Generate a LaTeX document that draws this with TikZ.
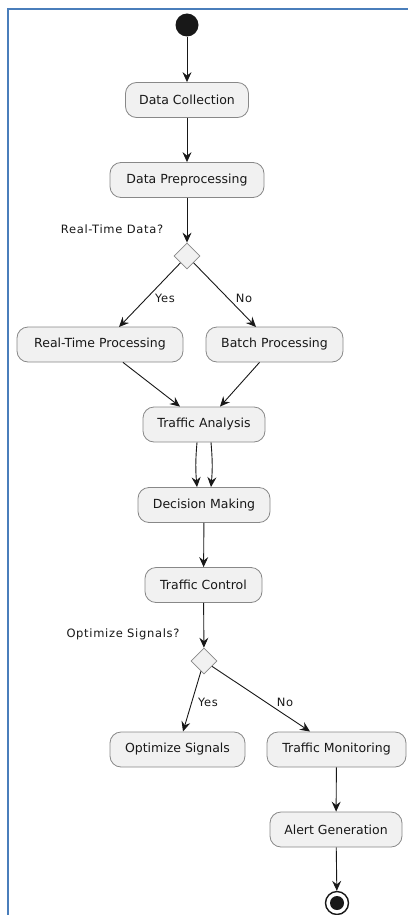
\documentclass[tikz,border=0pt]{standalone}
\usepackage{fontspec}
\setmainfont{DejaVu Sans}
\usetikzlibrary{arrows.meta,shapes.geometric}
\definecolor{boxfill}{HTML}{F1F1F1}
\definecolor{boxline}{HTML}{888888}
\definecolor{ink}{HTML}{181818}
\definecolor{frameblue}{HTML}{4A7EBB}
\tikzset{
  act/.style={draw=boxline, fill=boxfill, line width=0.8pt, rounded corners=11pt,
    minimum height=35pt, inner xsep=0pt, text=ink, font=\fontsize{12.5}{14}\selectfont},
  dec/.style={draw=boxline, fill=boxfill, line width=0.8pt, diamond, minimum width=26pt,
    minimum height=26pt, inner sep=0pt},
  lbl/.style={text=ink, font=\fontsize{11.5}{13}\selectfont\addfontfeature{LetterSpace=6}, inner sep=0pt},
  arr/.style={draw=ink, line width=0.9pt, -{Stealth[length=10pt,width=9pt,inset=3.5pt]}},
}
\begin{document}
\begin{tikzpicture}[x=1pt,y=-1pt]
\useasboundingbox (0,0) rectangle (407,915);
\draw[frameblue, line width=2pt] (8,920) -- (8,9) -- (410,9);

\node[circle, fill=ink, minimum size=23pt, inner sep=0pt] (start) at (187,25) {};
\node[act, minimum width=123pt] (dc) at (187,100) {Data Collection};
\node[act, minimum width=154pt] (dp) at (187,180) {Data Preprocessing};
\node[dec] (d1) at (187,256) {};
\node[lbl] (q1) at (112,229) {Real-Time Data?};
\node[act, minimum width=166pt] (rtp) at (100,344.5) {Real-Time Processing};
\node[act, minimum width=137pt] (bp) at (274.5,344.5) {Batch Processing};
\node[act, minimum width=122pt] (ta) at (204,424.5) {Traffic Analysis};
\node[act, minimum width=132pt] (dm) at (204,505) {Decision Making};
\node[act, minimum width=117pt] (tc) at (203.5,585) {Traffic Control};
\node[dec] (d2) at (204,661) {};
\node[lbl] (q2) at (123,634) {Optimize Signals?};
\node[act, minimum width=135pt] (os) at (177.5,749.5) {Optimize Signals};
\node[act, minimum width=139pt] (tm) at (336.5,749.5) {Traffic Monitoring};
\node[act, minimum width=132pt] (ag) at (336,829.5) {Alert Generation};
\node[circle, draw=ink, line width=1.4pt, fill=white, minimum size=23pt, inner sep=0pt] (stop) at (337,903) {};
\node[circle, fill=ink, minimum size=14pt, inner sep=0pt] (stopdot) at (337,903) {};

\coordinate (yes1end) at (119,327);
\coordinate (no1end) at (256,327);
\coordinate (yes2end) at (183,731.5);
\coordinate (no2end) at (310,731.5);

\draw[arr] (start) -- (dc);
\draw[arr] (dc) -- (dp);
\draw[arr] (dp) -- (d1);
\draw[arr] (d1) -- (yes1end);
\draw[arr] (d1) -- (no1end);
\node[lbl] (yl1) at (165,298) {Yes};
\node[lbl] (nl1) at (244,298) {No};
\draw[arr] ([xshift=23pt]rtp.south) -- ([xshift=-24pt]ta.north);
\draw[arr] ([xshift=-15pt]bp.south) -- ([xshift=16pt]ta.north);
\draw[arr] ([xshift=-7pt]ta.south) to[bend right=5] ([xshift=-7pt]dm.north);
\draw[arr] ([xshift=7pt]ta.south) to[bend left=5] ([xshift=7pt]dm.north);
\draw[arr] (dm) -- (tc);
\draw[arr] (tc) -- (d2);
\draw[arr] (d2) -- (yes2end);
\draw[arr] (d2) -- (no2end);
\node[lbl] (yl2) at (208,702) {Yes};
\node[lbl] (nl2) at (285,702) {No};
\draw[arr] (tm) -- (ag);
\draw[arr] (ag) -- (stop);
\end{tikzpicture}
\end{document}
